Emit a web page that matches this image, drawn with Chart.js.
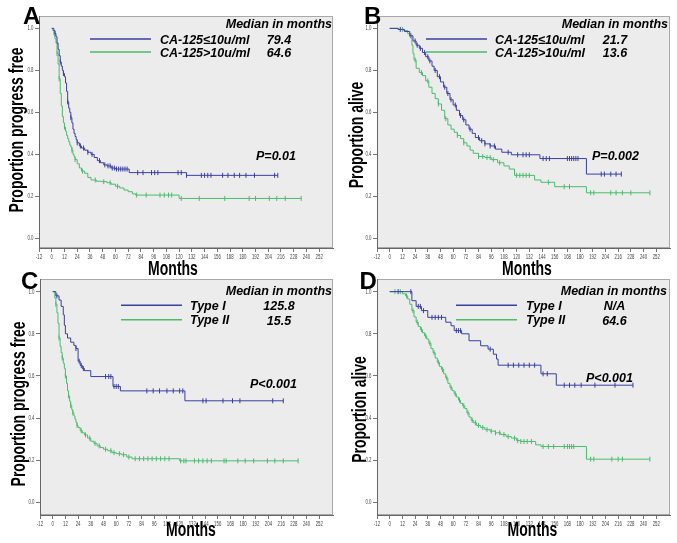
<!DOCTYPE html>
<html>
<head>
<meta charset="utf-8">
<script src="https://cdn.jsdelivr.net/npm/chart.js@4.4.1/dist/chart.umd.min.js"></script>
<style>
  html, body { margin: 0; padding: 0; background: #fff; }
  #wrap { position: relative; width: 677px; height: 543px; overflow: hidden; }
  canvas { position: absolute; left: 0; top: 0; }
</style>
</head>
<body>
<div id="wrap">
  <canvas id="cA" width="677" height="543"></canvas>
  <canvas id="cB" width="677" height="543"></canvas>
  <canvas id="cC" width="677" height="543"></canvas>
  <canvas id="cD" width="677" height="543"></canvas>
</div>
<script>
// axis ticks
const MONTH_TICKS = [-12, 0, 12, 24, 36, 48, 60, 72, 84, 96, 108, 120, 132, 144, 156, 168, 180, 192, 204, 216, 228, 240, 252]
const PROP_TICKS = [0, 0.2, 0.4, 0.6, 0.8, 1.0]

// A: progression free, CA-125
const A_LOW_T = [0, 2, 3, 4, 5, 6, 7, 8, 9, 10, 11, 12, 13, 14, 15, 16, 17, 18, 19, 20, 21, 22, 23, 24, 26, 28, 31, 34, 37, 40, 43, 46, 49, 52, 56, 60, 73, 127, 213]
const A_LOW_S = [1.0, 0.99, 0.975, 0.96, 0.93, 0.9, 0.87, 0.84, 0.82, 0.8, 0.785, 0.77, 0.74, 0.7, 0.65, 0.62, 0.6, 0.575, 0.55, 0.52, 0.5, 0.485, 0.47, 0.455, 0.44, 0.43, 0.42, 0.41, 0.4, 0.385, 0.37, 0.36, 0.35, 0.345, 0.335, 0.33, 0.313, 0.3, 0.3]
const A_LOW_C = [3, 8, 11, 15, 18, 24, 27, 30, 34, 38, 45, 50, 53, 55, 57, 59, 61, 63, 65, 67, 69, 71, 81, 86, 94, 97, 100, 119, 122, 127, 141, 144, 147, 150, 161, 166, 172, 177, 183, 191, 210, 213]
const A_HIGH_T = [0, 1, 2, 3, 4, 5, 6, 7, 8, 9, 10, 11, 12, 13, 14, 15, 16, 17, 18, 19, 20, 21, 22, 24, 26, 28, 31, 34, 37, 42, 47, 52, 56, 60, 64, 68, 72, 76, 79, 120, 235]
const A_HIGH_S = [1.0, 0.99, 0.97, 0.95, 0.93, 0.88, 0.83, 0.76, 0.69, 0.63, 0.58, 0.55, 0.53, 0.51, 0.49, 0.475, 0.46, 0.445, 0.435, 0.42, 0.4, 0.39, 0.375, 0.355, 0.335, 0.32, 0.31, 0.29, 0.278, 0.272, 0.27, 0.265, 0.258, 0.248, 0.24, 0.23, 0.222, 0.212, 0.206, 0.19, 0.19]
const A_HIGH_C = [5, 7, 12, 19, 22, 29, 41, 49, 55, 62, 80, 89, 102, 106, 110, 113, 122, 139, 163, 186, 192, 205, 212, 220, 235]

// B: overall survival, CA-125
const B_LOW_T = [0, 8, 14, 19, 22, 25, 28, 31, 34, 37, 40, 42, 45, 48, 51, 54, 57, 60, 63, 66, 69, 72, 75, 78, 81, 85, 90, 95, 100, 106, 115, 142, 186, 219]
const B_LOW_S = [1.0, 0.995, 0.985, 0.965, 0.94, 0.92, 0.905, 0.885, 0.865, 0.845, 0.82, 0.8, 0.77, 0.745, 0.72, 0.69, 0.66, 0.635, 0.61, 0.585, 0.565, 0.54, 0.52, 0.5, 0.48, 0.465, 0.45, 0.44, 0.425, 0.41, 0.398, 0.38, 0.306, 0.306]
const B_LOW_C = [10, 20, 24, 26, 29, 33, 36, 38, 43, 47, 52, 55, 58, 62, 67, 70, 76, 84, 87, 90, 95, 99, 112, 121, 126, 129, 132, 145, 148, 151, 168, 170, 172, 174, 176, 178, 200, 203, 209, 214, 219]
const B_HIGH_T = [0, 8, 13, 17, 19, 21, 22, 23, 25, 28, 31, 34, 37, 40, 43, 46, 49, 52, 55, 58, 61, 64, 67, 70, 73, 76, 79, 84, 90, 96, 102, 108, 113, 118, 137, 143, 156, 186, 246]
const B_HIGH_S = [1.0, 0.995, 0.99, 0.975, 0.96, 0.92, 0.88, 0.85, 0.81, 0.79, 0.775, 0.75, 0.72, 0.69, 0.665, 0.64, 0.61, 0.57, 0.54, 0.52, 0.505, 0.49, 0.475, 0.455, 0.44, 0.42, 0.405, 0.39, 0.385, 0.375, 0.36, 0.345, 0.33, 0.3, 0.278, 0.267, 0.246, 0.217, 0.217]
const B_HIGH_C = [12, 24, 30, 36, 46, 53, 64, 70, 84, 88, 92, 95, 98, 104, 120, 123, 126, 129, 132, 150, 165, 170, 190, 193, 209, 214, 220, 228, 246]

// C: progression free, type
const C_T1_T = [0, 3, 6, 8, 10, 11, 12, 14, 17, 20, 22, 24, 26, 28, 30, 36, 57, 64, 125, 218]
const C_T1_S = [1.0, 0.98, 0.96, 0.93, 0.89, 0.84, 0.8, 0.78, 0.76, 0.745, 0.73, 0.67, 0.65, 0.635, 0.625, 0.597, 0.55, 0.529, 0.482, 0.482]
const C_T1_C = [4, 22, 25, 27, 29, 50, 53, 55, 58, 60, 62, 89, 95, 101, 108, 114, 120, 123, 142, 145, 161, 170, 177, 208, 218]
const C_T2_T = [0, 2, 3, 4, 5, 6, 7, 8, 9, 10, 11, 12, 13, 14, 15, 16, 17, 18, 19, 20, 21, 22, 23, 24, 26, 28, 30, 33, 36, 39, 42, 45, 48, 52, 56, 60, 65, 70, 75, 120, 232]
const C_T2_S = [1.0, 0.97, 0.94, 0.9, 0.85, 0.78, 0.74, 0.71, 0.685, 0.66, 0.635, 0.6, 0.565, 0.53, 0.505, 0.48, 0.46, 0.44, 0.425, 0.41, 0.395, 0.38, 0.365, 0.355, 0.34, 0.33, 0.32, 0.305, 0.29, 0.28, 0.268, 0.26, 0.252, 0.245, 0.236, 0.231, 0.226, 0.215, 0.207, 0.197, 0.197]
const C_T2_C = [3, 6, 9, 12, 15, 17, 19, 23, 27, 31, 35, 40, 44, 50, 55, 58, 63, 67, 72, 78, 82, 86, 90, 94, 98, 102, 106, 110, 121, 124, 126, 134, 138, 142, 146, 150, 162, 164, 175, 182, 190, 203, 210, 218, 232]

// D: overall survival, type
const D_T1_T = [0, 21, 25, 30, 36, 53, 58, 61, 68, 75, 86, 93, 98, 101, 102.5, 143, 157.5, 230]
const D_T1_S = [1.0, 0.957, 0.93, 0.91, 0.878, 0.855, 0.838, 0.815, 0.8, 0.767, 0.743, 0.727, 0.703, 0.68, 0.651, 0.61, 0.556, 0.556]
const D_T1_C = [8, 20, 27, 29, 32, 40, 43, 46, 49, 63, 65, 67, 95, 112, 117, 122, 127, 132, 137, 145, 149, 165, 170, 175, 181, 194, 213, 230]
const D_T2_T = [0, 12, 15, 17, 19, 21, 23, 25, 27, 29, 31, 33, 35, 37, 39, 41, 43, 45, 47, 49, 51, 53, 55, 57, 59, 61, 63, 65, 67, 69, 71, 73, 75, 77, 79, 82, 86, 90, 95, 100, 105, 110, 115, 120, 124, 138, 143, 186, 246]
const D_T2_S = [1.0, 0.99, 0.98, 0.965, 0.94, 0.91, 0.88, 0.855, 0.835, 0.82, 0.805, 0.79, 0.775, 0.755, 0.73, 0.71, 0.685, 0.665, 0.645, 0.63, 0.61, 0.59, 0.565, 0.545, 0.53, 0.515, 0.5, 0.485, 0.47, 0.458, 0.445, 0.425, 0.405, 0.39, 0.378, 0.365, 0.355, 0.345, 0.338, 0.33, 0.322, 0.312, 0.305, 0.293, 0.289, 0.273, 0.265, 0.205, 0.205]
const D_T2_C = [5, 10, 16, 22, 26, 30, 34, 38, 42, 46, 50, 54, 58, 62, 66, 70, 74, 78, 81, 84, 88, 92, 96, 100, 104, 108, 112, 118, 121, 124, 127, 130, 134, 145, 150, 155, 165, 168, 170, 172, 174, 190, 193, 210, 216, 220, 246]

// texts
const CA_LABELS = ['CA-125≤10u/ml', 'CA-125>10u/ml']
const TYPE_LABELS = ['Type I', 'Type II']
const MEDIANS_A = ['79.4', '64.6']
const MEDIANS_B = ['21.7', '13.6']
const MEDIANS_C = ['125.8', '15.5']
const MEDIANS_D = ['N/A', '64.6']

const BLUE = '#3a3f9e'
const GREEN = '#4cbb6c'
const FONT = '"Liberation Sans", Arial, sans-serif'

function stepAt(times, surv, t) {
  let v = surv[0]
  for (let i = 0; i < times.length; i++) if (times[i] <= t) v = surv[i]
  return v
}

function curve(times, surv, color) {
  return {
    data: times.map((t, i) => ({ x: t, y: surv[i] })),
    showLine: true, stepped: 'before', borderColor: color, borderWidth: 1, pointRadius: 0
  }
}

function censors(times, surv, cens, color) {
  return {
    data: cens.map(t => ({ x: t, y: stepAt(times, surv, t) })),
    showLine: false, pointStyle: 'line', rotation: 90, pointRadius: 2.5,
    borderColor: color, borderWidth: 1
  }
}

function squeezed(ctx, text, x, y, sx, rotate) {
  ctx.save()
  ctx.translate(x, y)
  if (rotate) ctx.rotate(-Math.PI / 2)
  ctx.scale(sx, 1)
  ctx.fillText(text, 0, 0)
  ctx.restore()
}

const framePlugin = {
  id: 'frame',
  beforeDraw(chart) {
    const { ctx, chartArea: a } = chart
    ctx.save()
    ctx.fillStyle = '#ececec'
    ctx.fillRect(a.left, a.top, a.right - a.left, a.bottom - a.top)
    ctx.strokeStyle = '#a8a8a8'
    ctx.lineWidth = 1
    ctx.strokeRect(a.left + 0.5, a.top + 0.5, a.right - a.left - 1, a.bottom - a.top - 1)
    ctx.restore()
  }
}

const textPlugin = {
  id: 'texts',
  afterDraw(chart) {
    const p = chart.options.plugins.texts
    const { ctx, chartArea: a } = chart
    const xs = chart.scales.x, ys = chart.scales.y
    ctx.save()
    ctx.fillStyle = '#444'
    ctx.font = '7px ' + FONT
    ctx.textAlign = 'center'
    ctx.textBaseline = 'alphabetic'
    MONTH_TICKS.forEach(v => squeezed(ctx, String(v), xs.getPixelForValue(v), a.bottom + 10.5, 0.62))
    ctx.textAlign = 'right'
    ctx.textBaseline = 'middle'
    PROP_TICKS.forEach(v => squeezed(ctx, v.toFixed(1), a.left - 5.5, ys.getPixelForValue(v), 0.62))

    ctx.fillStyle = '#000'
    ctx.textBaseline = 'alphabetic'
    ctx.textAlign = 'left'
    ctx.font = 'bold 24px ' + FONT
    ctx.fillText(p.letter, p.letterPos[0], p.letterPos[1])

    ctx.textAlign = 'center'
    ctx.font = 'bold 20px ' + FONT
    squeezed(ctx, p.yTitle, p.yTitlePos[0], p.yTitlePos[1], 0.7, true)
    squeezed(ctx, 'Months', p.xTitlePos[0], p.xTitlePos[1], 0.7, false)

    ctx.font = 'italic bold 12.5px ' + FONT
    ctx.textAlign = 'right'
    ctx.fillText('Median in months', p.headPos[0], p.headPos[1])
    const colors = [BLUE, GREEN]
    for (let i = 0; i < 2; i++) {
      ctx.strokeStyle = colors[i]
      ctx.lineWidth = 1.5
      ctx.beginPath()
      ctx.moveTo(p.lineX[0], p.lineY[i])
      ctx.lineTo(p.lineX[1], p.lineY[i])
      ctx.stroke()
      ctx.textAlign = 'left'
      ctx.fillText(p.labels[i], p.labelX, p.lineY[i] + 4.5)
      ctx.textAlign = 'center'
      ctx.fillText(p.medians[i], p.medianX, p.lineY[i] + 5)
    }
    ctx.textAlign = 'left'
    ctx.fillText(p.pValue, p.pPos[0], p.pPos[1])
    ctx.restore()
  }
}

function makePanel(id, area, yRange, sets, texts) {
  new Chart(document.getElementById(id), {
    type: 'scatter',
    data: { datasets: sets },
    options: {
      responsive: false, animation: false, events: [],
      layout: { padding: { left: area.left - 39, top: area.top, right: 677 - area.right, bottom: 543 - area.bottom - 14 } },
      plugins: { legend: { display: false }, tooltip: { enabled: false }, texts: texts },
      scales: {
        x: {
          type: 'linear', min: -12, max: 265,
          afterFit: s => { s.height = 14 },
          afterBuildTicks: s => { s.ticks = MONTH_TICKS.map(v => ({ value: v })) },
          grid: { drawOnChartArea: false, drawTicks: true, tickLength: 4, color: '#777' },
          border: { color: '#666' },
          ticks: { display: false }
        },
        y: {
          type: 'linear', min: yRange[0], max: yRange[1],
          afterFit: s => { s.width = 39 },
          afterBuildTicks: s => { s.ticks = PROP_TICKS.map(v => ({ value: v })) },
          grid: { drawOnChartArea: false, drawTicks: true, tickLength: 4, color: '#777' },
          border: { color: '#666' },
          ticks: { display: false }
        }
      }
    },
    plugins: [framePlugin, textPlugin]
  })
}

makePanel('cA', { left: 39, right: 333, top: 16, bottom: 248 }, [-0.046, 1.059], [
  curve(A_LOW_T, A_LOW_S, BLUE), curve(A_HIGH_T, A_HIGH_S, GREEN),
  censors(A_LOW_T, A_LOW_S, A_LOW_C, BLUE), censors(A_HIGH_T, A_HIGH_S, A_HIGH_C, GREEN)
], {
  letter: 'A', letterPos: [23, 24], yTitle: 'Proportion progress free', yTitlePos: [23, 130], xTitlePos: [173, 275],
  headPos: [332, 28], lineX: [90, 151], lineY: [39, 52], labelX: 160, labels: CA_LABELS,
  medianX: 279, medians: MEDIANS_A, pValue: 'P=0.01', pPos: [256, 160]
})

makePanel('cB', { left: 377, right: 670, top: 16, bottom: 248 }, [-0.046, 1.059], [
  curve(B_LOW_T, B_LOW_S, BLUE), curve(B_HIGH_T, B_HIGH_S, GREEN),
  censors(B_LOW_T, B_LOW_S, B_LOW_C, BLUE), censors(B_HIGH_T, B_HIGH_S, B_HIGH_C, GREEN)
], {
  letter: 'B', letterPos: [364, 24], yTitle: 'Proportion alive', yTitlePos: [363, 135], xTitlePos: [527, 275],
  headPos: [668, 28], lineX: [426, 487], lineY: [39, 52], labelX: 495, labels: CA_LABELS,
  medianX: 615, medians: MEDIANS_B, pValue: 'P=0.002', pPos: [592, 160]
})

makePanel('cC', { left: 40, right: 333, top: 279, bottom: 515 }, [-0.06, 1.06], [
  curve(C_T1_T, C_T1_S, BLUE), curve(C_T2_T, C_T2_S, GREEN),
  censors(C_T1_T, C_T1_S, C_T1_C, BLUE), censors(C_T2_T, C_T2_S, C_T2_C, GREEN)
], {
  letter: 'C', letterPos: [21, 289], yTitle: 'Proportion progress free', yTitlePos: [24.5, 404], xTitlePos: [191, 536],
  headPos: [332, 295], lineX: [121, 182], lineY: [305.3, 319.7], labelX: 190, labels: TYPE_LABELS,
  medianX: 279, medians: MEDIANS_C, pValue: 'P<0.001', pPos: [250, 388]
})

makePanel('cD', { left: 377, right: 670, top: 279, bottom: 515 }, [-0.06, 1.06], [
  curve(D_T1_T, D_T1_S, BLUE), curve(D_T2_T, D_T2_S, GREEN),
  censors(D_T1_T, D_T1_S, D_T1_C, BLUE), censors(D_T2_T, D_T2_S, D_T2_C, GREEN)
], {
  letter: 'D', letterPos: [359.5, 289], yTitle: 'Proportion alive', yTitlePos: [365.5, 409.5], xTitlePos: [532.5, 536],
  headPos: [667, 295], lineX: [456, 517], lineY: [305.3, 319.7], labelX: 526, labels: TYPE_LABELS,
  medianX: 614.5, medians: MEDIANS_D, pValue: 'P<0.001', pPos: [586, 381.5]
})
</script>
</body>
</html>
